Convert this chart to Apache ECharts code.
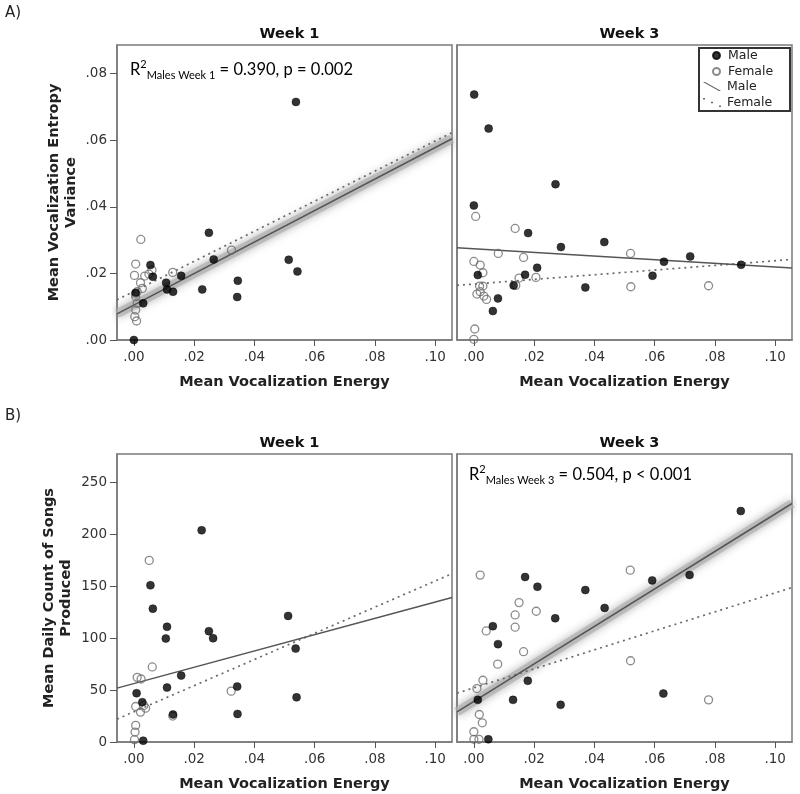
<!DOCTYPE html>
<html>
<head>
<meta charset="utf-8">
<script src="https://cdn.jsdelivr.net/npm/echarts@6/dist/echarts.min.js"></script>
<style>
html,body{margin:0;padding:0;background:#fff;}
#chart{width:800px;height:794px;}
</style>
</head>
<body>
<div id="chart"></div>
<script>
// ---------- DATA ----------
const panelTitles = ['Week 1', 'Week 3', 'Week 1', 'Week 3'];
const xTicks = [0, 0.02, 0.04, 0.06, 0.08, 0.10];
const yTicksA = [0, 0.02, 0.04, 0.06, 0.08];
const yTicksB = [0, 50, 100, 150, 200, 250];
const xRange = [-0.0056, 0.1056];
const yRangeA = [0, 0.0886];
const yRangeB = [0, 277.5];

// Panel A, Week 1: energy vs entropy variance
const entW1Male = [[0.0538,0.0715],[0.0249,0.0322],[0.0265,0.0242],[0.0514,0.0241],[0.0543,0.0206],[0.0345,0.0178],[0.0343,0.0129],[0.0227,0.0152],[0.0157,0.0193],[0.0107,0.0172],[0.0110,0.0152],[0.0130,0.0145],[0.0055,0.0225],[0.0063,0.0190],[0.0031,0.0110],[0.0000,0.0000],[0.0006,0.0142]];
const entW1Female = [[0.0023,0.0302],[0.0006,0.0228],[0.0002,0.0194],[0.0036,0.0192],[0.0050,0.0198],[0.0060,0.0210],[0.0129,0.0203],[0.0324,0.0270],[0.0022,0.0172],[0.0028,0.0155],[0.0011,0.0145],[0.0006,0.0130],[0.0011,0.0110],[0.0006,0.0090],[0.0003,0.0070],[0.0009,0.0057],[0.0005,0.0138]];
// Panel A, Week 3
const entW3Male = [[0.0001,0.0737],[0.0049,0.0635],[0.0271,0.0468],[0.0000,0.0404],[0.0180,0.0321],[0.0289,0.0279],[0.0433,0.0294],[0.0718,0.0251],[0.0631,0.0235],[0.0887,0.0226],[0.0593,0.0193],[0.0370,0.0158],[0.0210,0.0217],[0.0170,0.0196],[0.0132,0.0164],[0.0013,0.0195],[0.0080,0.0125],[0.0063,0.0087]];
const entW3Female = [[0.0006,0.0371],[0.0137,0.0335],[0.0081,0.0260],[0.0165,0.0248],[0.0520,0.0260],[0.0521,0.0160],[0.0779,0.0163],[0.0206,0.0188],[0.0150,0.0186],[0.0139,0.0164],[0.0000,0.0236],[0.0021,0.0225],[0.0030,0.0202],[0.0019,0.0162],[0.0030,0.0162],[0.0010,0.0138],[0.0021,0.0145],[0.0033,0.0132],[0.0042,0.0122],[0.0003,0.0033],[0.0000,0.0002]];
// Panel B, Week 1: energy vs daily song count
const songW1Male = [[0.0225,204],[0.0055,151],[0.0063,128.5],[0.0110,111],[0.0106,99.7],[0.0249,106.8],[0.0263,100],[0.0512,121.5],[0.0537,90],[0.0540,43],[0.0343,53.4],[0.0344,27],[0.0157,64],[0.0110,52.4],[0.0130,26.5],[0.0009,47],[0.0028,38.4],[0.0031,1.3]];
const songW1Female = [[0.0051,175],[0.0061,72.3],[0.0011,62.3],[0.0024,60.7],[0.0323,49],[0.0006,34.2],[0.0022,28.8],[0.0039,32.6],[0.0033,35.2],[0.0129,25],[0.0006,16],[0.0004,9.6],[0.0002,2.2]];
// Panel B, Week 3
const songW3Male = [[0.0886,222.5],[0.0170,159],[0.0211,149.6],[0.0370,146.4],[0.0592,155.7],[0.0716,161],[0.0434,129.2],[0.0270,119.2],[0.0063,111.6],[0.0080,94.3],[0.0179,59],[0.0130,40.6],[0.0288,35.8],[0.0629,46.7],[0.0013,40.6],[0.0048,2.6]];
const songW3Female = [[0.0021,160.8],[0.0519,165.6],[0.0150,134.3],[0.0207,126],[0.0137,122.4],[0.0137,110.6],[0.0041,107],[0.0165,87],[0.0079,75],[0.0520,78.3],[0.0779,40.6],[0.0030,59.5],[0.0010,51.5],[0.0018,26.5],[0.0028,18.5],[0.0000,9.9],[0.0000,2.6],[0.0017,2.6]];

// Fit lines [intercept, slope]
const fitEntW1Male = [0.0105, 0.473];
const fitEntW1Female = [0.0146, 0.4515];
const fitEntW3Male = [0.0274, -0.0548];
const fitEntW3Female = [0.0168, 0.070];
const fitSongW1Male = [56.3, 785];
const fitSongW1Female = [29.1, 1260];
const fitSongW3Male = [39.1, 1806];
const fitSongW3Female = [52.2, 915];

// ---------- BUILD ----------
const FONT = 'DejaVu Sans';
const grids = [
  {left:117, top:45, width:335, height:295},
  {left:457, top:45, width:335, height:295},
  {left:117, top:454, width:335, height:288},
  {left:457, top:454, width:335, height:288}
];
function fitLine(c){ return xRange.map(x => [x, c[0] + c[1]*x]); }
function fmtX(v){ return v.toFixed(2).replace(/^0/, ''); }

const xAxes = grids.map((g,i) => ({
  type:'value', gridIndex:i, min:xRange[0], max:xRange[1],
  splitLine:{show:false},
  axisLine:{show:true, onZero:false, lineStyle:{color:'#7a7a7a', width:1.5}},
  axisTick:{show:true, inside:false, length:6, lineStyle:{color:'#555'}, customValues:xTicks},
  axisLabel:{show:true, margin:10, color:'#333', fontFamily:FONT, fontSize:13.5, customValues:xTicks, formatter:fmtX},
  name:'Mean Vocalization Energy', nameLocation:'middle', nameGap:35,
  nameTextStyle:{fontFamily:FONT, fontWeight:'bold', fontSize:14.5, color:'#222'}
}));
const yAxes = grids.map((g,i) => {
  const isA = i < 2, first = (i % 2 === 0);
  const ticks = isA ? yTicksA : yTicksB;
  return {
    type:'value', gridIndex:i, min:(isA?yRangeA:yRangeB)[0], max:(isA?yRangeA:yRangeB)[1],
    splitLine:{show:false},
    axisLine:{show:true, onZero:false, lineStyle:{color:'#7a7a7a', width:1.5}},
    axisTick:{show:first, inside:false, length:7, lineStyle:{color:'#555'}, customValues:ticks},
    axisLabel:{show:first, margin:10, color:'#333', fontFamily:FONT, fontSize:13.5, customValues:ticks,
      formatter: isA ? fmtX : (v => String(v))},
    name: first ? (isA ? 'Mean Vocalization Entropy\nVariance' : 'Mean Daily Count of Songs\nProduced') : '',
    nameLocation:'middle', nameGap: isA ? 37 : 42, nameRotate:90,
    nameTextStyle:{fontFamily:FONT, fontWeight:'bold', fontSize:14.5, color:'#222', lineHeight:17}
  };
});

const panels = [
  {m:entW1Male, f:entW1Female, fm:fitEntW1Male, ff:fitEntW1Female, band:true},
  {m:entW3Male, f:entW3Female, fm:fitEntW3Male, ff:fitEntW3Female, band:false},
  {m:songW1Male, f:songW1Female, fm:fitSongW1Male, ff:fitSongW1Female, band:false},
  {m:songW3Male, f:songW3Female, fm:fitSongW3Male, ff:fitSongW3Female, band:true}
];
const series = [];
panels.forEach((p,i) => {
  if (p.band) {
    series.push({type:'line', name:'band', xAxisIndex:i, yAxisIndex:i, data:fitLine(p.fm), symbol:'none', silent:true, z:1,
      lineStyle:{color:'rgba(175,175,175,0.7)', width:9, shadowBlur:8, shadowColor:'rgba(140,140,140,0.9)'}});
  }
  series.push({type:'line', name:'Female fit', xAxisIndex:i, yAxisIndex:i, data:fitLine(p.ff), symbol:'none', silent:true, z:2,
    lineStyle:{color:'#6a6a6a', width:1.7, type:[2,4]}, itemStyle:{color:'#6a6a6a'}});
  series.push({type:'line', name:'Male fit', xAxisIndex:i, yAxisIndex:i, data:fitLine(p.fm), symbol:'none', silent:true, z:2,
    lineStyle:{color:'#555', width:1.5}, itemStyle:{color:'#555'}});
  series.push({type:'scatter', name:'Female', xAxisIndex:i, yAxisIndex:i, data:p.f, symbol:'circle', symbolSize:8, z:3,
    itemStyle:{color:'rgba(255,255,255,0)', borderColor:'#6e6e6e', borderWidth:1.3}});
  series.push({type:'scatter', name:'Male', xAxisIndex:i, yAxisIndex:i, data:p.m, symbol:'circle', symbolSize:8, z:4,
    itemStyle:{color:'#000', borderColor:'#000', borderWidth:0.5}});
});

const titles = [
  {text:'A)', left:0, top:1, textStyle:{fontFamily:FONT, fontWeight:'normal', fontSize:15, color:'#222'}},
  {text:'B)', left:0, top:404, textStyle:{fontFamily:FONT, fontWeight:'normal', fontSize:15, color:'#222'}}
];
grids.forEach((g,i) => {
  titles.push({text:panelTitles[i], left:g.left + g.width/2, top:g.top - 23, textAlign:'center',
    textStyle:{fontFamily:FONT, fontWeight:'bold', fontSize:14.5, color:'#111'}});
});

const rich = {
  r:{fontFamily:'Lato', fontSize:16.5, color:'#222', lineHeight:22, verticalAlign:'middle'},
  sup:{fontFamily:'Lato', fontSize:11, color:'#222', lineHeight:11, verticalAlign:'top'},
  sub:{fontFamily:'Lato', fontSize:11, color:'#222', lineHeight:11, verticalAlign:'bottom'}
};
const legText = {fontFamily:FONT, fontSize:12.5, color:'#222', lineHeight:15};

const option = {
  backgroundColor:'#fff',
  animation:false,
  title: titles,
  grid: grids.map(g => Object.assign({show:true, borderColor:'#7a7a7a', borderWidth:1.5, backgroundColor:'#fff'}, g)),
  xAxis: xAxes,
  yAxis: yAxes,
  legend: [
    {data:['Male','Female'], orient:'vertical', left:712, top:48, padding:0, itemWidth:7, itemHeight:7, itemGap:1,
      selectedMode:false, icon:'circle',
      textStyle:Object.assign({padding:[0,0,0,3]}, legText)},
    {data:[{name:'Male fit', icon:'path://M0,0L2,0L18,9L16,9Z'},
           {name:'Female fit', icon:'path://M0,0h2v1.6h-2Z M8,3.7h2v1.6h-2Z M16,7.4h2v1.6h-2Z'}],
      orient:'vertical', left:703, top:79, padding:0, itemWidth:18, itemHeight:9, itemGap:1, selectedMode:false,
      formatter: n => n.replace(' fit',''),
      textStyle:Object.assign({padding:[0,0,0,1]}, legText)}
  ],
  graphic: [
    {type:'rect', left:698, top:47, shape:{width:91, height:63}, z:50,
      style:{fill:'rgba(0,0,0,0)', stroke:'#333', lineWidth:2}},
    {type:'text', left:130, top:59, z:50, style:{text:'{r|R}{sup|2}{sub|Males Week 1}{r| = 0.390, p = 0.002}', rich:rich}},
    {type:'text', left:469, top:464, z:50, style:{text:'{r|R}{sup|2}{sub|Males Week 3}{r| = 0.504, p < 0.001}', rich:rich}}
  ],
  series: series
};
const chart = echarts.init(document.getElementById('chart'), null, {renderer:'canvas'});
chart.setOption(option);
</script>
</body>
</html>
